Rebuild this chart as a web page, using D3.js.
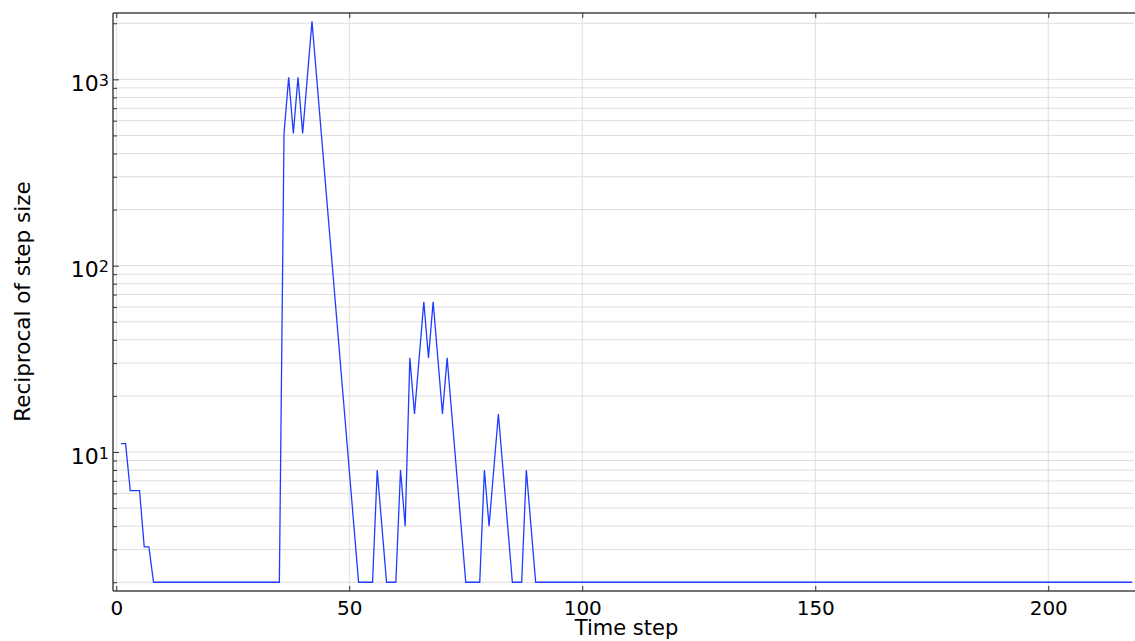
<!DOCTYPE html>
<html>
<head>
<meta charset="utf-8">
<script src="https://cdn.jsdelivr.net/npm/d3@7"></script>
<style>
  body { margin: 0; background: #fff; }
  svg { display: block; font-family: "DejaVu Sans", sans-serif; }
</style>
</head>
<body>
<svg width="1135" height="641"></svg>
<script>
// time step index and reciprocal of step size
var steps = [1, 2, 3, 4, 5, 6, 7, 8, 35,
  36, 37, 38, 39, 40, 41, 42, 43, 44, 45, 46, 47, 48, 49, 50,
  51, 52, 53, 54, 55, 56, 57, 58, 59, 60, 61, 62, 63, 64, 65,
  66, 67, 68, 69, 70, 71, 72, 73, 74, 75, 76, 77, 78, 79, 80,
  81, 82, 83, 84, 85, 86, 87, 88, 89, 90, 218];
var values = [11.1, 11.1, 6.2, 6.2, 6.2, 3.1, 3.1, 2, 2,
  512, 1024, 512, 1024, 512, 1024, 2048, 1024, 512, 256, 128, 64, 32, 16, 8,
  4, 2, 2, 2, 2, 8, 4, 2, 2, 2, 8, 4, 32, 16, 32,
  64, 32, 64, 32, 16, 32, 16, 8, 4, 2, 2, 2, 2, 8, 4,
  8, 16, 8, 4, 2, 2, 2, 8, 4, 2, 2];

var xTicks = [0, 50, 100, 150, 200];
var yMajor = [10, 100, 1000];
var yGrid = [2, 3, 4, 5, 6, 7, 8, 9, 10, 20, 30, 40, 50, 60, 70, 80, 90,
  100, 200, 300, 400, 500, 600, 700, 800, 900, 1000, 2000];

var svg = d3.select("svg");
var pLeft = 113, pRight = 1134, pTop = 13, pBottom = 591;

var x = d3.scaleLinear().domain([-0.7, 218.4]).range([pLeft, pRight]);
var y = d3.scaleLog().domain([1.795, 2270]).range([pBottom, pTop]);

// grid
svg.append("g").selectAll("line")
  .data(yGrid).enter().append("line")
  .attr("x1", pLeft).attr("x2", pRight)
  .attr("y1", function(d) { return y(d); })
  .attr("y2", function(d) { return y(d); })
  .attr("stroke", "#dedede").attr("stroke-width", 1);

svg.append("g").selectAll("line")
  .data(xTicks).enter().append("line")
  .attr("y1", pTop).attr("y2", pBottom)
  .attr("x1", function(d) { return x(d); })
  .attr("x2", function(d) { return x(d); })
  .attr("stroke", "#dedede").attr("stroke-width", 1);

// data line
var line = d3.line()
  .x(function(d, i) { return x(steps[i]); })
  .y(function(d) { return y(d); });

svg.append("path")
  .datum(values)
  .attr("d", line)
  .attr("fill", "none")
  .attr("stroke", "#1f3dff")
  .attr("stroke-width", 1.3);

// axes, ticks pointing inside
var xAxis = d3.axisBottom(x).tickValues(xTicks).tickSizeInner(-5).tickSizeOuter(0)
  .tickPadding(10).tickFormat(d3.format("d"));
var gx = svg.append("g").attr("transform", "translate(0," + pBottom + ")").call(xAxis);
gx.select(".domain").attr("d", "M" + pLeft + ",0H" + (pRight + 1));
gx.selectAll("text").attr("font-size", 20).attr("font-family", "DejaVu Sans").attr("fill", "#000");

var gxTop = svg.append("g").attr("transform", "translate(0," + pTop + ")")
  .call(d3.axisTop(x).tickValues(xTicks).tickSizeInner(-5).tickSizeOuter(0).tickFormat(""));
gxTop.select(".domain").attr("d", "M" + pLeft + ",0H" + (pRight + 1));

var gy = svg.append("g").attr("transform", "translate(" + pLeft + ",0)")
  .call(d3.axisLeft(y).tickValues(yGrid).tickSizeInner(-4).tickSizeOuter(0).tickFormat(""));
gy.select(".domain").attr("d", "M0," + pTop + "V" + pBottom);
gy.selectAll(".tick line").filter(function(d) { return yMajor.indexOf(d) >= 0; }).attr("x2", 6);

svg.selectAll(".domain").attr("stroke", "#444").attr("stroke-width", 1.5);
svg.selectAll(".tick line").attr("stroke", "#333");

// y tick labels as 10^n
var ylab = svg.append("g").selectAll("text")
  .data(yMajor).enter().append("text")
  .attr("x", 109)
  .attr("y", function(d) { return y(d) + 11.5; })
  .attr("text-anchor", "end")
  .attr("font-size", 22);
ylab.append("tspan").text("10");
ylab.append("tspan")
  .attr("font-size", 16)
  .attr("dy", -5)
  .text(function(d) { return Math.round(Math.log10(d)); });

// axis titles
svg.append("text")
  .attr("x", (pLeft + pRight) / 2 + 3).attr("y", 634.5)
  .attr("text-anchor", "middle")
  .attr("font-size", 21)
  .text("Time step");

svg.append("text")
  .attr("transform", "translate(29.5," + 301.5 + ") rotate(-90)")
  .attr("text-anchor", "middle")
  .attr("font-size", 21.5)
  .text("Reciprocal of step size");
</script>
</body>
</html>
